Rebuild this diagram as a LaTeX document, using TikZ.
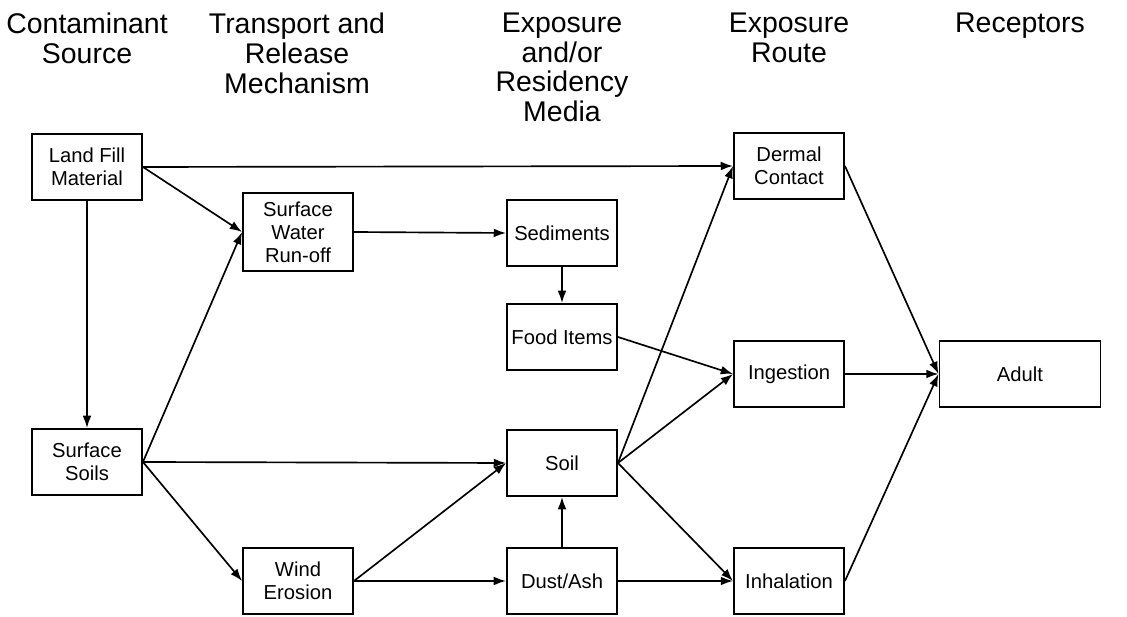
\documentclass[tikz,border=0pt]{standalone}
\usepackage{fontspec}
\setmainfont{Liberation Sans}
\usetikzlibrary{arrows.meta}
\begin{document}
\begin{tikzpicture}[x=0.02cm, y=-0.02cm,
  box/.style={draw, line width=1.1pt, minimum width=2.2cm, minimum height=1.32cm, align=center, inner sep=0pt, font=\fontsize{11.5}{13}\selectfont},
  hdr/.style={anchor=north, align=center, inner sep=0pt, font=\fontsize{16.2}{16.8}\selectfont},
  arr/.style={-{Latex[length=7pt,width=5pt]}, line width=0.95pt}]
\useasboundingbox (0,0) rectangle (1127,617);
\node[hdr] (hsrc) at (87,13) {Contaminant\\Source};
\node[hdr] (hrel) at (297,13) {Transport and\\Release\\Mechanism};
\node[hdr] (hmed) at (562,13) {Exposure\\and/or\\Residency\\Media};
\node[hdr] (hrte) at (789,13) {Exposure\\Route};
\node[hdr] (hrec) at (1020,13) {Receptors};
\node[box] (land) at (87,167) {Land Fill\\Material};
\node[box] (soils) at (87,462) {Surface\\Soils};
\node[box, minimum height=1.56cm] (water) at (298,232) {Surface\\Water\\Run-off};
\node[box] (wind) at (298,581) {Wind\\Erosion};
\node[box] (sed) at (562,233) {Sediments};
\node[box] (food) at (562,337) {Food Items};
\node[box] (soil) at (562,463) {Soil};
\node[box] (dust) at (562,581) {Dust/Ash};
\node[box] (dermal) at (789,166) {Dermal\\Contact};
\node[box] (ingest) at (789,374) {Ingestion};
\node[box] (inhal) at (789,581) {Inhalation};
\node[box, minimum width=3.22cm] (adult) at (1020,374) {Adult};
\draw[arr] (land.east) -- (dermal.west);
\draw[arr] (land.east) -- (water.west);
\draw[arr] (land.south) -- (soils.north);
\draw[arr] (soils.east) -- (water.west);
\draw[arr] (soils.east) -- (soil.west);
\draw[arr] (soils.east) -- (wind.west);
\draw[arr] (water.east) -- (sed.west);
\draw[arr] (sed.south) -- (food.north);
\draw[arr] (food.east) -- (ingest.west);
\draw[arr] (wind.east) -- (soil.west);
\draw[arr] (wind.east) -- (dust.west);
\draw[arr] (dust.north) -- (soil.south);
\draw[arr] (dust.east) -- (inhal.west);
\draw[arr] (soil.east) -- (dermal.west);
\draw[arr] (soil.east) -- (ingest.west);
\draw[arr] (soil.east) -- (inhal.west);
\draw[arr] (dermal.east) -- (adult.west);
\draw[arr] (ingest.east) -- (adult.west);
\draw[arr] (inhal.east) -- (adult.west);
\end{tikzpicture}
\end{document}
